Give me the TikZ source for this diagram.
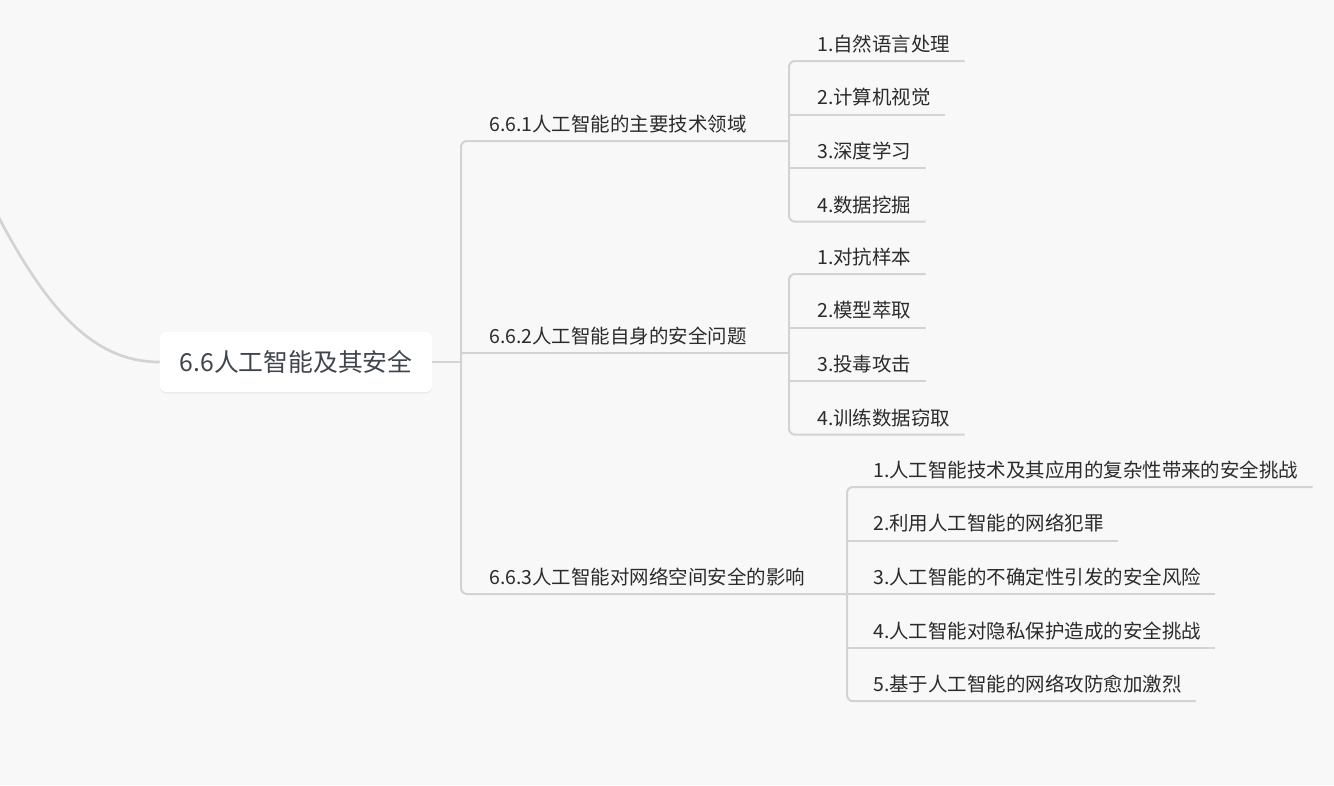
\documentclass[tikz,border=0pt]{standalone}
\usepackage{fontspec}
\setmainfont{Noto Sans CJK SC}
\usepackage{xcolor}
\usepackage{tikz}
\usetikzlibrary{positioning,shadows}
\definecolor{paper}{HTML}{F8F8F8}
\definecolor{wire}{HTML}{D3D3D3}
\definecolor{ink}{HTML}{2B2B2B}
\definecolor{rootink}{HTML}{40454D}

\begin{document}
\begin{tikzpicture}[
  x=0.75pt,y=-0.75pt,
  font=\fontsize{14.6pt}{17pt}\selectfont,
  node distance=18.25pt,
  every node/.style={text=ink},
  rootbox/.style={rounded corners=4.5pt,fill=white,inner sep=0pt,
               minimum width=204pt,minimum height=45pt,text=rootink,
               font=\fontsize{18.6pt}{22pt}\selectfont,
               drop shadow={shadow xshift=0pt,shadow yshift=-1pt,opacity=0.12}},
  topic/.style={anchor=south west,inner xsep=0pt,inner ysep=3.5pt,
               text height=11pt,text depth=3.5pt},
  link/.style={draw=wire,line width=1.5pt},
  stem/.style={link,rounded corners=4.5pt}
]
\useasboundingbox (0,0) rectangle (1334,785);
\fill[paper] (0,0) rectangle (1334,785);

% ROOT
\coordinate (up) at (-20,180);
\node[rootbox] (root) at (296,362) {6.6人工智能及其安全};
\draw[link,line width=2pt] (root.west) .. controls (90,362) and (40,305) .. (up);

% BRANCHES
\coordinate (trunk) at (461,362);
\node[topic] (b1) at (489,141) {6.6.1人工智能的主要技术领域};
\node[topic] (b2) at (489,353) {6.6.2人工智能自身的安全问题};
\node[topic] (b3) at (489,594) {6.6.3人工智能对网络空间安全的影响};

\coordinate (s1) at (789,141);
\coordinate (s2) at (789,353);
\coordinate (s3) at (847,594);

\draw[link] (root.east) -- (trunk);
\draw[stem] (s1) -- (b1.south -| trunk) -- (b3.south -| trunk) -- (s3);
\draw[link] (b2.south -| trunk) -- (s2);

% 6.6.1
\node[topic] (c11) at (817,61) {1.自然语言处理};
\node[topic] (c12) [below=of c11.south west,anchor=north west] {2.计算机视觉};
\node[topic] (c13) [below=of c12.south west,anchor=north west] {3.深度学习};
\node[topic] (c14) [below=of c13.south west,anchor=north west] {4.数据挖掘};

\draw[stem] ([xshift=10.5pt]c11.south east) -- (c11.south -| s1)
  -- (c14.south -| s1) -- ([xshift=10.5pt]c14.south east);
\foreach \n in {c12,c13}
  \draw[link] (\n.south -| s1) -- ([xshift=10.5pt]\n.south east);

% 6.6.2
\node[topic] (c21) at (817,274) {1.对抗样本};
\node[topic] (c22) [below=of c21.south west,anchor=north west] {2.模型萃取};
\node[topic] (c23) [below=of c22.south west,anchor=north west] {3.投毒攻击};
\node[topic] (c24) [below=of c23.south west,anchor=north west] {4.训练数据窃取};

\draw[stem] ([xshift=10.5pt]c21.south east) -- (c21.south -| s2)
  -- (c24.south -| s2) -- ([xshift=10.5pt]c24.south east);
\foreach \n in {c22,c23}
  \draw[link] (\n.south -| s2) -- ([xshift=10.5pt]\n.south east);

% 6.6.3
\node[topic] (c31) at (873,487) {1.人工智能技术及其应用的复杂性带来的安全挑战};
\node[topic] (c32) [below=of c31.south west,anchor=north west] {2.利用人工智能的网络犯罪};
\node[topic] (c33) [below=of c32.south west,anchor=north west] {3.人工智能的不确定性引发的安全风险};
\node[topic] (c34) [below=of c33.south west,anchor=north west] {4.人工智能对隐私保护造成的安全挑战};
\node[topic] (c35) [below=of c34.south west,anchor=north west] {5.基于人工智能的网络攻防愈加激烈};

\draw[stem] ([xshift=10.5pt]c31.south east) -- (c31.south -| s3)
  -- (c35.south -| s3) -- ([xshift=10.5pt]c35.south east);
\foreach \n in {c32,c33,c34}
  \draw[link] (\n.south -| s3) -- ([xshift=10.5pt]\n.south east);
\end{tikzpicture}
\end{document}
